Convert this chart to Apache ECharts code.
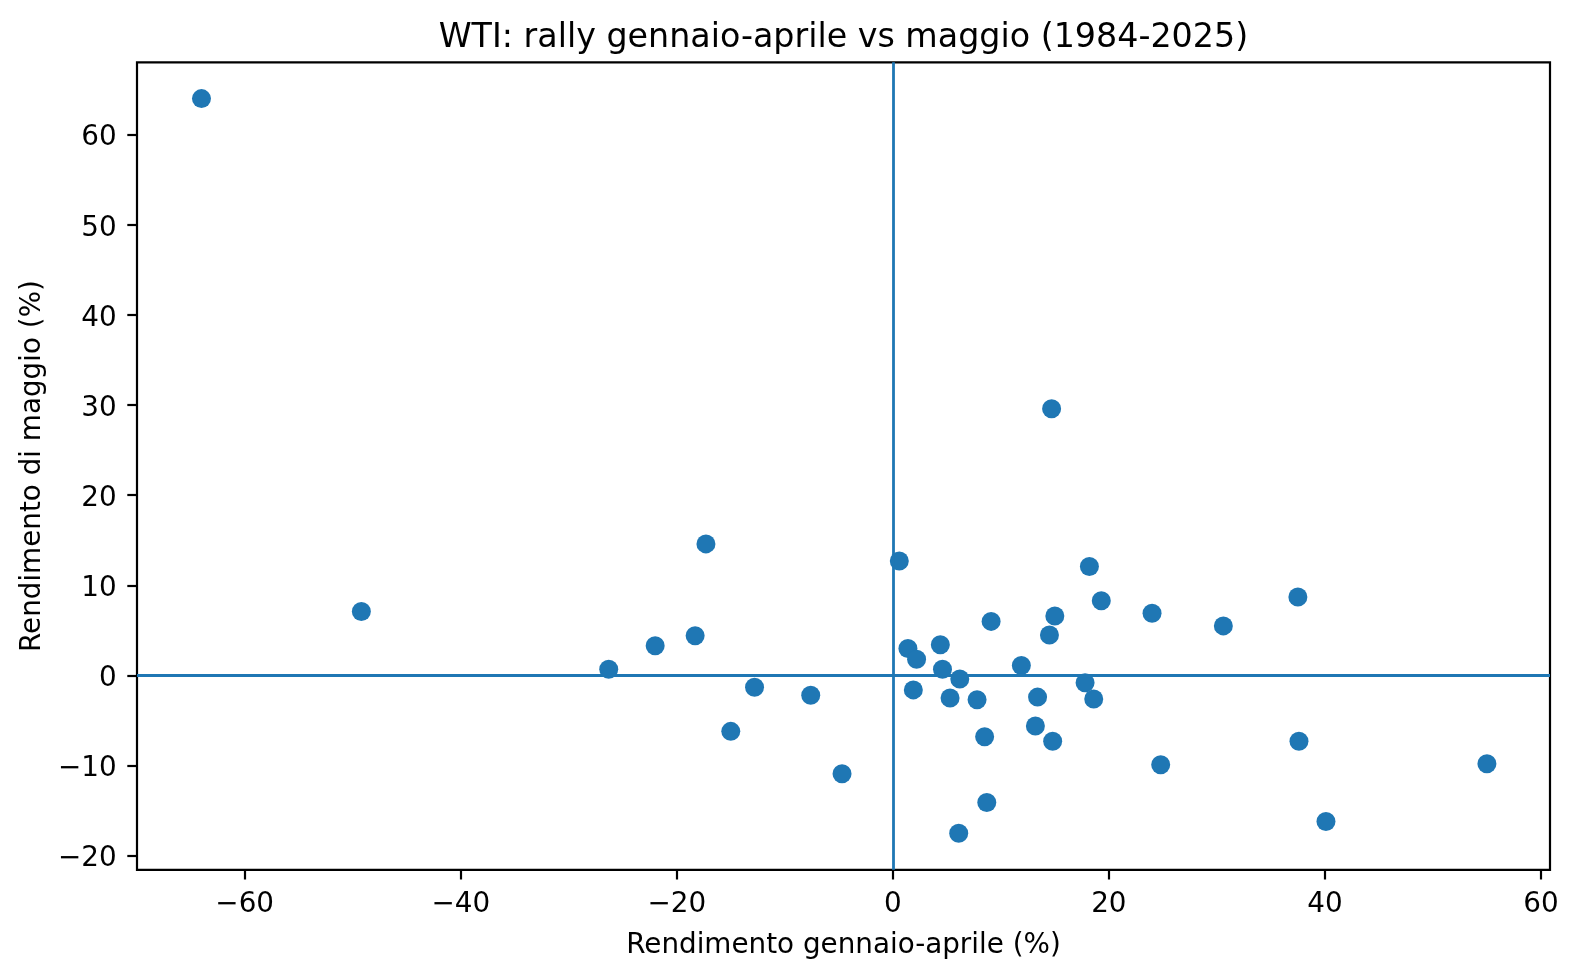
<!DOCTYPE html>
<html lang="it">
<head>
    <meta charset="utf-8">
    <script src="https://cdn.jsdelivr.net/npm/echarts@6/dist/echarts.min.js"></script>
    <style>
        html, body { margin: 0; padding: 0; background: #fff; }
        #main { width: 1579px; height: 977px; }
    </style>
</head>
<body>
<div id="main"></div>
<script type="text/javascript">
    // rendimento gennaio-aprile (%) e rendimento di maggio (%), un punto per anno
    var janAprReturns = [
        -64.0, -49.2, -26.3, -22.0, -18.3, -17.3, -15.0, -12.8, -7.6, -4.7,
        0.6, 1.4, 1.9, 2.2, 4.4, 4.6, 5.3, 6.1, 6.2, 7.8,
        8.5, 8.7, 9.1, 11.9, 13.2, 13.4, 14.5, 14.7, 14.8, 15.0,
        17.8, 18.2, 18.6, 19.3, 24.0, 24.8, 30.6, 37.5, 37.6, 40.1,
        55.0
    ];
    var mayReturns = [
        64.0, 7.1, 0.7, 3.3, 4.4, 14.6, -6.2, -1.3, -2.2, -10.9,
        12.7, 3.0, -1.6, 1.8, 3.4, 0.7, -2.5, -17.5, -0.4, -2.7,
        -6.8, -14.1, 6.0, 1.1, -5.6, -2.4, 4.5, 29.6, -7.3, 6.6,
        -0.8, 12.1, -2.6, 8.3, 6.9, -9.9, 5.5, 8.7, -7.3, -16.2,
        -9.8
    ];
    var xTicks = [-60, -40, -20, 0, 20, 40, 60];
    var yTicks = [-20, -10, 0, 10, 20, 30, 40, 50, 60];

    var FONT = 'DejaVu Sans';
    var BLUE = '#1f77b4';

    var points = [];
    for (var i = 0; i < janAprReturns.length; i++) {
        points.push([janAprReturns[i], mayReturns[i]]);
    }

    function minusFmt(v) {
        return String(v).replace('-', '\u2212');
    }

    var chart = echarts.init(document.getElementById('main'), null, {renderer: 'canvas'});

    var option = {
        animation: false,
        backgroundColor: '#fff',
        textStyle: {fontFamily: FONT},
        graphic: [{
            type: 'text',
            x: 843.4,
            y: 38.5,
            style: {
                text: 'WTI: rally gennaio-aprile vs maggio (1984-2025)',
                fontFamily: FONT,
                fontSize: 33.3,
                fill: '#000',
                align: 'center',
                verticalAlign: 'middle'
            }
        }],
        grid: {
            left: 137,
            top: 62.3,
            width: 1413,
            height: 807.5,
            show: true,
            borderColor: '#000',
            borderWidth: 2.2,
            backgroundColor: 'transparent'
        },
        xAxis: {
            type: 'value',
            min: -69.97,
            max: 60.84,
            name: 'Rendimento gennaio-aprile (%)',
            nameLocation: 'middle',
            nameGap: 61.5,
            nameTextStyle: {fontFamily: FONT, fontSize: 27.8, color: '#000'},
            axisLine: {show: false, onZero: false},
            axisTick: {
                show: true, length: 9.7, customValues: xTicks,
                lineStyle: {color: '#000', width: 2.2}
            },
            axisLabel: {
                customValues: xTicks, margin: 21,
                fontFamily: FONT, fontSize: 27.8, color: '#000',
                formatter: minusFmt
            },
            splitLine: {show: false}
        },
        yAxis: {
            type: 'value',
            min: -21.56,
            max: 68.03,
            name: 'Rendimento di maggio (%)',
            nameLocation: 'middle',
            nameGap: 87,
            nameTextStyle: {fontFamily: FONT, fontSize: 27.8, color: '#000'},
            axisLine: {show: false, onZero: false},
            axisTick: {
                show: true, length: 9.7, customValues: yTicks,
                lineStyle: {color: '#000', width: 2.2}
            },
            axisLabel: {
                customValues: yTicks, margin: 20.4,
                fontFamily: FONT, fontSize: 27.8, color: '#000',
                verticalAlign: 'top',
                lineHeight: 7,
                formatter: minusFmt
            },
            splitLine: {show: false}
        },
        series: [{
            type: 'scatter',
            data: points,
            symbol: 'circle',
            symbolSize: 19,
            itemStyle: {color: BLUE, opacity: 1},
            markLine: {
                silent: true,
                symbol: 'none',
                label: {show: false},
                lineStyle: {color: BLUE, width: 2.8, type: 'solid'},
                emphasis: {disabled: true},
                data: [{xAxis: 0}, {yAxis: 0}]
            }
        }]
    };

    chart.setOption(option);
</script>
</body>
</html>
